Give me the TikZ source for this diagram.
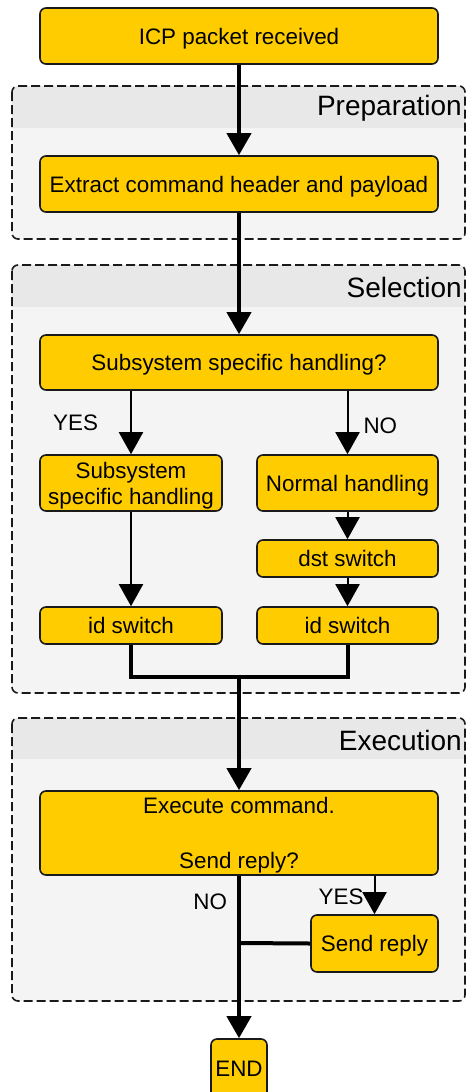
\documentclass[tikz,border=0pt]{standalone}
\usepackage{fontspec}
\setmainfont{Liberation Sans}
\usepackage{tikz}
\usetikzlibrary{arrows.meta}
\definecolor{boxyellow}{HTML}{FFCC00}
\definecolor{groupfill}{HTML}{F4F4F4}
\definecolor{headfill}{HTML}{E8E8E8}
\definecolor{edge}{HTML}{1A1A1A}

\begin{document}
\begin{tikzpicture}[x=1pt,y=-1pt]
\tikzset{>={Triangle[width=24pt,length=22pt]}}
\tikzstyle{box} =[rectangle, rounded corners=6pt, draw=edge, line width=1.6pt, fill=boxyellow, align=center, text depth=-1pt, font=\fontsize{22.4}{26}\selectfont]
\tikzstyle{group} =[draw=edge, line width=1.6pt, dash pattern=on 9pt off 4pt, rounded corners=6pt]
\tikzstyle{grouptitle} =[anchor=east, inner sep=0pt, font=\fontsize{28}{32}\selectfont]
\tikzstyle{tag} =[inner sep=0pt, font=\fontsize{22.4}{26}\selectfont]
\tikzstyle{thin} =[line width=2pt]
\tikzstyle{fat} =[line width=4pt]

\useasboundingbox (0,0) rectangle (466,1092);

% groups
\begin{scope}
\fill[groupfill, rounded corners=6pt] (12,86) rectangle (465,239);
\clip[rounded corners=6pt] (12,86) rectangle (465,239);
\fill[headfill] (12,86) rectangle (465,128);
\end{scope}
\draw[group] (12,86) rectangle (465,239);
\node[grouptitle](prephead) at (462,108){Preparation};

\begin{scope}
\fill[groupfill, rounded corners=6pt] (12,265) rectangle (465,693);
\clip[rounded corners=6pt] (12,265) rectangle (465,693);
\fill[headfill] (12,265) rectangle (465,307);
\end{scope}
\draw[group] (12,265) rectangle (465,693);
\node[grouptitle](selhead) at (462,287){Selection};

\begin{scope}
\fill[groupfill, rounded corners=6pt] (12,718) rectangle (465,1001);
\clip[rounded corners=6pt] (12,718) rectangle (465,1001);
\fill[headfill] (12,718) rectangle (465,759);
\end{scope}
\draw[group] (12,718) rectangle (465,1001);
\node[grouptitle](exechead) at (462,740){Execution};

% steps
\node[box, minimum width=398pt, minimum height=56pt](icp) at (239,36){ICP packet received};
\node[box, minimum width=398pt, minimum height=56pt](extract) at (239,184){Extract command header and payload};
\node[box, minimum width=398pt, minimum height=55pt](ask) at (239,362.5){Subsystem specific handling?};
\node[box, minimum width=182pt, minimum height=56pt, inner sep=0pt](special) at (131,483){Subsystem\\specific handling};
\node[box, minimum width=181pt, minimum height=56pt](normal) at (347.5,483){Normal handling};
\node[box, minimum width=181pt, minimum height=37pt, inner sep=0pt](dst) at (347.5,558.5){dst switch};
\node[box, minimum width=182pt, minimum height=37pt, inner sep=0pt](idleft) at (131,625.5){id switch};
\node[box, minimum width=181pt, minimum height=37pt, inner sep=0pt](idright) at (347.5,625.5){id switch};
\node[box, minimum width=398pt, minimum height=84pt](exec) at (239,833){Execute command.\\[29pt]Send reply?};
\node[box, minimum width=127pt, minimum height=57pt](reply) at (374.5,943.5){Send reply};
\node[box, minimum width=56pt, minimum height=60pt, inner sep=0pt](end) at (239,1069){END};

\coordinate (merge) at (239,677);
\coordinate (join) at (239,943);

% flow
\draw [->,fat] (icp) to (extract);
\draw [->,fat] (extract) to (ask);
\draw [->,thin] (ask.south -| special.north) to node[tag, left=32pt, pos=0.5](yesleft){YES} (special.north);
\draw [->,thin] (ask.south -| normal.north) to node[tag, right=15pt, pos=0.55](noright){NO} (normal.north);
\draw [->,thin] (special) to (idleft);
\draw [->,thin] (normal) to (dst);
\draw [->,thin] (dst) to (idright);
\draw [fat] (idleft.south) |- (merge);
\draw [fat] (idright.south) |- (merge);
\draw [->,fat] (merge) to (exec.north);
\draw [->,fat] (exec.south) to node[tag, left=10pt, pos=0.16](nobottom){NO} (end.north);
\draw [->,thin] (exec.south -| reply.north) to node[tag, left=10pt, pos=0.55](yesright){YES} (reply.north);
\draw [fat] (reply.west) to (join);
\end{tikzpicture}
\end{document}
